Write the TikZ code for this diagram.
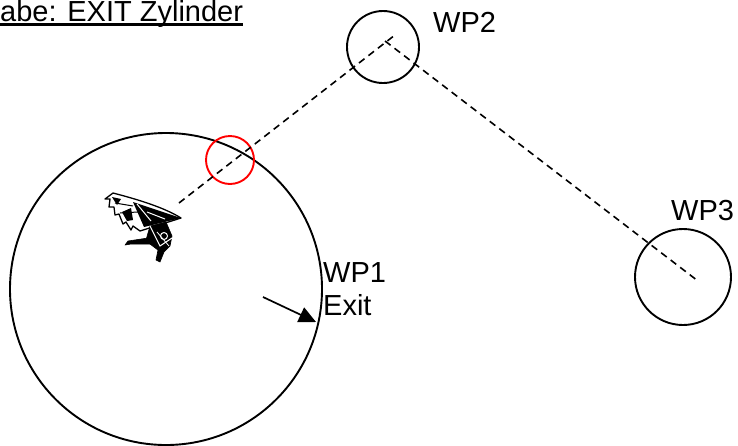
\documentclass[tikz,border=0pt]{standalone}
\usepackage{fontspec}
\setmainfont{Liberation Sans}
\usetikzlibrary{arrows.meta}
\begin{document}
\begin{tikzpicture}[x=1pt,y=-1pt,
  wp/.style={circle,draw,line width=1.9pt,inner sep=0pt},
  label/.style={anchor=base west,inner sep=0pt,font=\fontsize{29}{34}\selectfont},
  route/.style={dashed,line width=1.6pt,dash pattern=on 7pt off 5pt},
  glider/.style={fill=black,draw=black,line width=0.6pt,line join=round}]
\useasboundingbox (0,0) rectangle (738,445);

% title
\node[label] (title) at (0,21.5) {abe: EXIT Zylinder};
\draw[line width=2.4pt] ([yshift=-3pt]title.base west) -- ([yshift=-3pt]title.base east);

% turnpoint cylinders
\node[wp,minimum size=312pt] (wp1) at (166,289) {};
\node[wp,minimum size=72pt] (wp2) at (383,47) {};
\node[wp,minimum size=96pt] (wp3) at (683,277) {};
\node[circle,draw=red,line width=1.9pt,minimum size=48pt,inner sep=0pt] (exitpt) at (230,160) {};

% labels
\node[label] (l2) at (433,32) {WP2};
\node[label] (l3) at (671,220) {WP3};
\node[label] (l1) at (323,282) {WP1};
\node[label] (l1b) at (323,315) {Exit};

% course line
\coordinate (nose) at (179,203);
\coordinate (leg1end) at (395,35);
\coordinate (leg2start) at (385,41);
\coordinate (leg2end) at (698,281);
\draw[route] (nose) -- (leg1end);
\draw[route] (leg2start) -- (leg2end);

% exit direction
\coordinate (arrstart) at (263,297);
\coordinate (arrend) at (316,322);
\draw[line width=1.7pt,-{Triangle[length=17pt,width=16pt]}] (arrstart) -- (arrend);

% hang glider
\begin{scope}
  % wing outline with ragged trailing edge
  \draw[fill=white,line width=1.3pt,line join=round]
    (113,193) .. controls (140,200) and (165,208) .. (181,218)
    -- (140,231) -- (133,226) -- (131,230) -- (126,222) -- (123,224)
    -- (119,214) -- (115,215) -- (114,207) -- (109,207) -- (110,199) -- (105,199) -- cycle;
  % dark sail panels
  \fill (133,202) -- (181,218) -- (144,227) -- cycle;
  \fill (122,212) -- (131,208) -- (133,220) -- (127,221) -- cycle;
  \fill (112,197) -- (121,199) -- (117,205) -- cycle;
  % battens
  \draw[white,line width=1pt] (137,204) -- (151,221);
  \draw[white,line width=1pt] (147,212) -- (165,219);
  \draw[line width=1pt] (115,203) -- (133,206);
  \draw[line width=1pt] (120,213) -- (138,212);
  % pilot
  \fill[glider] (150,226) -- (166,222) -- (172,236) -- (170,246) -- (164,252)
    -- (160,262) -- (156,260) -- (158,250) -- (150,244) -- (146,240) -- cycle;
  \fill[glider] (148,238) -- (128,241) -- (125,245) -- (131,244) -- (150,244) -- cycle;
  \draw[white,line width=1pt] (164,236) circle (3.5pt);
  % control frame
  \draw[white,line width=1pt] (150,226) -- (160,246) -- (172,238);
  \draw[white,line width=0.8pt] (157,232) -- (169,246);
\end{scope}
\end{tikzpicture}
\end{document}
